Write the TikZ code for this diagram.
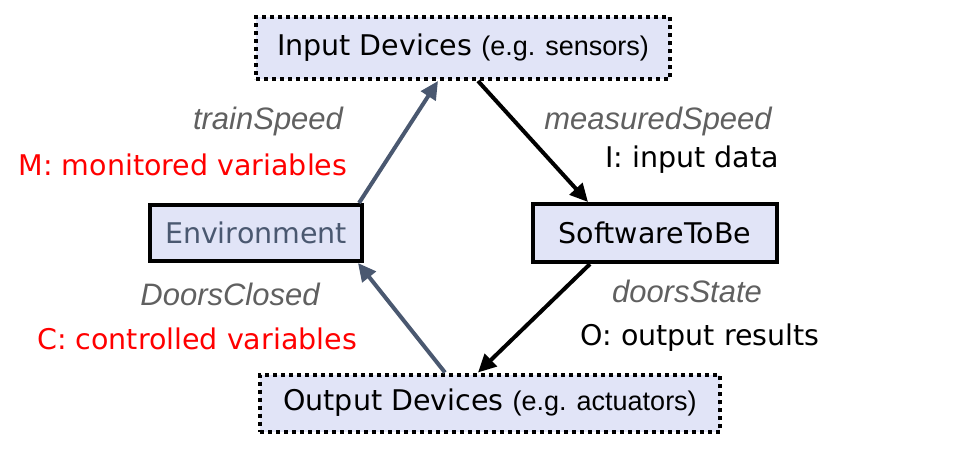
\documentclass[tikz,border=0pt]{standalone}
\usepackage{fontspec}
\setmainfont{DejaVu Sans}
\newfontfamily\arialf{Liberation Sans}
\usetikzlibrary{arrows.meta,calc}
\definecolor{boxfill}{HTML}{E1E4F7}
\definecolor{slate}{HTML}{4A5870}
\definecolor{lblgray}{HTML}{606060}
\definecolor{myred}{HTML}{FF0000}
\begin{document}
\begin{tikzpicture}[x=1pt,y=-1pt,
  solidbox/.style={draw=black,line width=4pt,fill=boxfill,inner sep=0pt,font=\fontsize{28.5}{33}\selectfont},
  dotbox/.style={draw=black,line width=4pt,dash pattern=on 4pt off 4pt,fill=boxfill,inner sep=0pt,font=\fontsize{28.5}{33}\selectfont},
  varlbl/.style={inner sep=0pt,font=\arialf\itshape\fontsize{31}{36}\selectfont,text=lblgray},
  catlbl/.style={inner sep=0pt,font=\fontsize{28.5}{33}\selectfont},
  slarrow/.style={draw=slate,line width=4pt,-{Triangle[length=18pt,width=17pt]}},
  blarrow/.style={draw=black,line width=4pt,-{Triangle[length=18pt,width=17pt]}}
]
\useasboundingbox (0,0) rectangle (954,453);
\node[dotbox,minimum width=414pt,minimum height=62pt] (in) at (463,48)
  {Input Devices {\arialf\fontsize{27}{31}\selectfont (e.g. sensors)}};
\node[solidbox,minimum width=212pt,minimum height=56pt,text=slate] (env) at (256,233) {Environment};
\node[solidbox,minimum width=244pt,minimum height=58pt] (sw) at (655,233) {SoftwareToBe};
\node[dotbox,minimum width=460pt,minimum height=57pt] (out) at (490,403)
  {Output Devices {\arialf\fontsize{27}{31}\selectfont (e.g. actuators)}};

\node[varlbl] (ts) at (268,121) {trainSpeed};
\node[catlbl,text=myred] (mv) at (183,165) {M: monitored variables};
\node[varlbl] (ms) at (658,121) {measuredSpeed};
\node[catlbl] (id) at (692,160) {I: input data};
\node[varlbl] (dc) at (230,294) {DoorsClosed};
\node[catlbl,text=myred] (cv) at (197,339) {C: controlled variables};
\node[varlbl] (ds) at (687,291) {doorsState};
\node[catlbl] (or) at (700,338) {O: output results};

\draw[slarrow] ($(env.north east)+(-5,0)$) -- ($(in.south)+(-25,0)$);
\draw[blarrow] ($(in.south)+(15,0)$) -- ($(sw.north)+(-67,0)$);
\draw[blarrow] ($(sw.south)+(-65,0)$) -- ($(out.north)+(-12,0)$);
\draw[slarrow] ($(out.north)+(-45,0)$) -- ($(env.south east)+(-6,0)$);
\end{tikzpicture}
\end{document}
